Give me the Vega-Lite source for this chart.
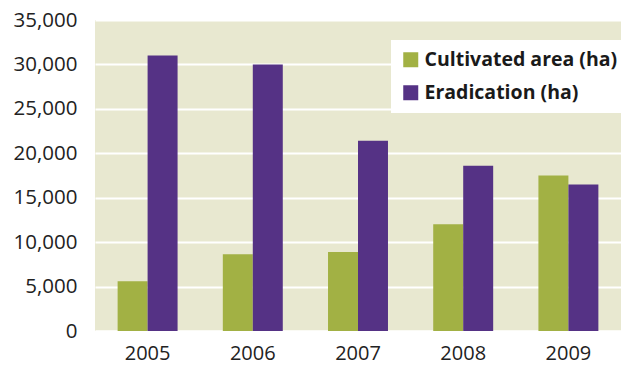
{
  "$schema": "https://vega.github.io/schema/vega-lite/v6.json",
  "width": 526,
  "height": 311,
  "autosize": {"type": "none"},
  "padding": {"left": 95, "top": 20, "right": 6, "bottom": 43},
  "background": "white",
  "config": {
    "view": {"fill": "#e8e8d0", "stroke": null},
    "font": "Open Sans"
  },
  "data": {
    "values": [
      {"year": "2005", "series": "Cultivated area (ha)", "value": 5600},
      {"year": "2005", "series": "Eradication (ha)", "value": 31000},
      {"year": "2006", "series": "Cultivated area (ha)", "value": 8650},
      {"year": "2006", "series": "Eradication (ha)", "value": 30000},
      {"year": "2007", "series": "Cultivated area (ha)", "value": 8900},
      {"year": "2007", "series": "Eradication (ha)", "value": 21400},
      {"year": "2008", "series": "Cultivated area (ha)", "value": 12000},
      {"year": "2008", "series": "Eradication (ha)", "value": 18600},
      {"year": "2009", "series": "Cultivated area (ha)", "value": 17500},
      {"year": "2009", "series": "Eradication (ha)", "value": 16500}
    ]
  },
  "mark": {"type": "bar"},
  "encoding": {
    "x": {
      "field": "year", "type": "nominal", "title": null,
      "scale": {"paddingInner": 0.43, "paddingOuter": 0.215},
      "axis": {"labelAngle": 0, "labelFontSize": 20, "labelColor": "#222", "ticks": false, "domain": true, "domainColor": "#ffffff", "domainWidth": 2, "labelPadding": 12}
    },
    "xOffset": {"field": "series", "type": "nominal", "sort": ["Cultivated area (ha)", "Eradication (ha)"], "scale": {"paddingInner": 0}},
    "y": {
      "field": "value", "type": "quantitative", "title": null,
      "scale": {"domain": [0, 35000], "nice": false},
      "axis": {"values": [0, 5000, 10000, 15000, 20000, 25000, 30000, 35000], "format": ",.0f", "labelFontSize": 20.5, "labelColor": "#222", "ticks": false, "domain": false, "gridColor": "#ffffff", "gridWidth": 2, "gridOpacity": 1, "labelPadding": 18}
    },
    "color": {
      "field": "series", "type": "nominal",
      "sort": ["Cultivated area (ha)", "Eradication (ha)"],
      "scale": {"domain": ["Cultivated area (ha)", "Eradication (ha)"], "range": ["#a2b144", "#553285"]},
      "legend": {
        "title": null, "orient": "none", "legendX": 296, "legendY": 20,
        "fillColor": "white", "padding": 10,
        "symbolType": "square", "symbolSize": 225, "symbolStrokeWidth": 0,
        "labelFontSize": 19.5, "labelFontWeight": "bold", "labelColor": "#1a1a1a",
        "rowPadding": 12, "labelOffset": 4, "labelLimit": 300
      }
    }
  }
}
